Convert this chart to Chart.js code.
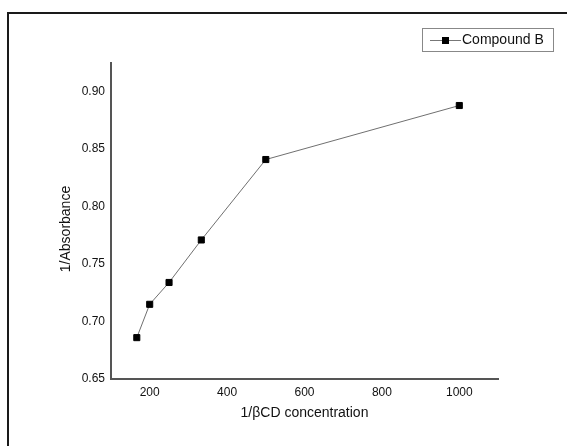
<!DOCTYPE html>
<html lang="en">
<head>
	<meta charset="UTF-8">
	<title>Compound B</title>
	<script src="https://cdn.jsdelivr.net/npm/chart.js@4.4.1/dist/chart.umd.min.js"></script>
	<style>
		html, body { margin: 0; padding: 0; background: #fff; }
		#wrap { width: 567px; height: 446px; }
	</style>
</head>
<body>
	<div id="wrap"><canvas id="myChart"></canvas></div>

	<script>
	// 1/[βCD] vs 1/A
	let invConc = [166.67, 200, 250, 333.33, 500, 1000]
	let invAbs = [0.686, 0.715, 0.734, 0.771, 0.841, 0.888]
	let xTicks = [200, 400, 600, 800, 1000]
	let yTicks = [0.65, 0.70, 0.75, 0.80, 0.85, 0.90]
	let seriesName = 'Compound B'
	let yTitle = '1/Absorbance'

	let points = invConc.map((x, i) => ({x: x, y: invAbs[i]}))
	let font = 'Liberation Sans, Arial, sans-serif'

	// outer frame, boxed legend and the y title (sits a bit below centre)
	let decor = {
		id: 'decor',
		beforeDraw(chart) {
			let ctx = chart.ctx
			ctx.save()
			ctx.fillStyle = '#fff'
			ctx.fillRect(0, 0, chart.width, chart.height)
			ctx.strokeStyle = '#1a1a1a'
			ctx.lineWidth = 2
			ctx.strokeRect(8, 13, chart.width + 20, chart.height + 20)
			ctx.restore()
		},
		afterDraw(chart) {
			let ctx = chart.ctx
			let area = chart.chartArea
			ctx.save()
			ctx.strokeStyle = '#888'
			ctx.lineWidth = 1
			ctx.strokeRect(422.5, 28.5, 131, 23)
			ctx.strokeStyle = '#777'
			ctx.beginPath()
			ctx.moveTo(430, 40.5)
			ctx.lineTo(461, 40.5)
			ctx.stroke()
			ctx.fillStyle = '#000'
			ctx.fillRect(442, 37, 7, 7)
			ctx.font = '14px ' + font
			ctx.textBaseline = 'middle'
			ctx.fillStyle = '#111'
			ctx.fillText(seriesName, 462, 40.5)

			ctx.translate(66, (area.top + area.bottom) / 2 + 8)
			ctx.rotate(-Math.PI / 2)
			ctx.textAlign = 'center'
			ctx.fillText(yTitle, 0, 0)
			ctx.restore()
		}
	}

	let ctx = document.getElementById('myChart').getContext('2d')
	let chart = new Chart(ctx, {
		type: 'scatter',
		data: {
			datasets: [{
				label: seriesName,
				data: points,
				showLine: true,
				borderColor: '#707070',
				borderWidth: 1,
				pointStyle: 'rect',
				pointRadius: 4.3,
				pointBorderWidth: 1,
				pointBackgroundColor: '#000',
				pointBorderColor: '#000'
			}]
		},
		options: {
			responsive: true,
			maintainAspectRatio: false,
			animation: false,
			layout: { padding: { top: 63, right: 69, left: 0, bottom: 0 } },
			plugins: {
				legend: { display: false },
				tooltip: { enabled: false }
			},
			scales: {
				x: {
					type: 'linear',
					min: 100,
					max: 1100,
					afterBuildTicks: s => { s.ticks = xTicks.map(v => ({value: v})) },
					afterFit: s => { s.height = 67 },
					grid: { display: false, drawTicks: false },
					border: { display: true, color: '#555', width: 2 },
					ticks: {
						color: '#111',
						padding: 6,
						font: { family: font, size: 12 },
						callback: v => String(v)
					},
					title: {
						display: true,
						text: '1/βCD concentration',
						color: '#111',
						font: { family: font, size: 14 },
						padding: { top: 0, bottom: 24.6 }
					}
				},
				y: {
					type: 'linear',
					min: 0.65,
					max: 0.925,
					afterBuildTicks: s => { s.ticks = yTicks.map(v => ({value: v})) },
					afterFit: s => { s.width = 111 },
					grid: { display: false, drawTicks: false },
					border: { display: true, color: '#555', width: 2 },
					ticks: {
						color: '#111',
						padding: 6,
						font: { family: font, size: 12 },
						callback: v => v.toFixed(2)
					}
				}
			}
		},
		plugins: [decor]
	})
	</script>
</body>
</html>
